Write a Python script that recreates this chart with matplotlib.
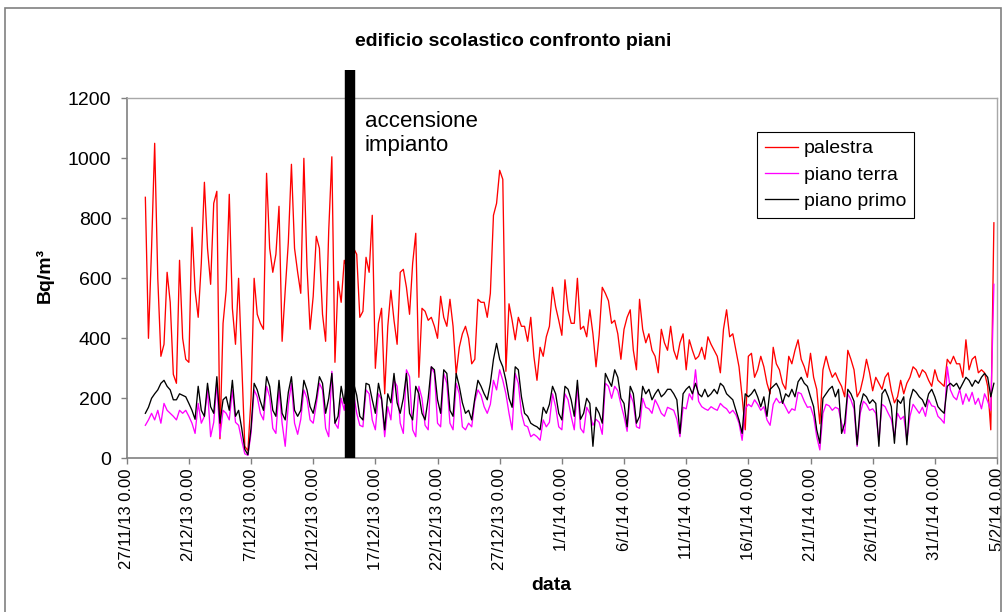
import matplotlib
matplotlib.use('Agg')
import matplotlib.pyplot as plt
import matplotlib.dates as mdates
import matplotlib.patches as patches
import matplotlib.transforms as mtransforms
from matplotlib.ticker import FuncFormatter
import pandas as pd

plt.rcParams['font.family'] = ['Liberation Sans', 'DejaVu Sans']

# Radon readings (Bq/m3), one value every 6 hours starting 28/11/13 12.00
start = '2013-11-28 12:00'

palestra = [
    870, 400,
    700, 1050, 600, 340,
    380, 620, 520, 280,
    250, 660, 400, 330,
    320, 770, 560, 470,
    650, 920, 700, 580,
    850, 890, 65, 450,
    560, 880, 500, 380,
    600, 320, 40, 25,
    200, 600, 480, 450,
    430, 950, 700, 620,
    680, 840, 390, 560,
    720, 980, 700, 620,
    550, 1000, 640, 430,
    540, 740, 700, 480,
    390, 760, 1005, 320,
    590, 520, 660, 630,
    650, 700, 680, 470,
    490, 670, 620, 810,
    300, 450, 500, 215,
    440, 560, 460, 380,
    620, 630, 570, 480,
    650, 750, 270, 500,
    490, 460, 470, 440,
    400, 540, 470, 440,
    530, 440, 280, 370,
    415, 440, 400, 315,
    330, 530, 520, 520,
    470, 550, 810, 850,
    960, 930, 290, 515,
    460, 395, 470, 440,
    440, 390, 470, 340,
    260, 370, 340, 405,
    440, 570, 505, 460,
    410, 595, 495, 450,
    450, 600, 430, 440,
    405, 495, 415, 305,
    410, 570, 550, 525,
    450, 460, 415, 330,
    430, 470, 495, 360,
    295, 530, 430, 385,
    415, 360, 340, 285,
    430, 385, 360, 440,
    360, 330, 385, 415,
    295, 395, 360, 330,
    340, 370, 330, 405,
    380, 360, 340, 285,
    430, 495, 405, 415,
    360, 305, 205, 95,
    340, 350, 270, 295,
    340, 305, 250, 215,
    370, 315, 295, 250,
    230, 340, 315, 360,
    395, 330, 305, 270,
    350, 270, 230, 115,
    295, 340, 300, 270,
    285, 260, 240, 205,
    360, 330, 295, 205,
    225, 270, 330, 285,
    225, 270, 250, 230,
    270, 285, 225, 185,
    205, 260, 215, 250,
    270, 305, 295, 270,
    295, 285, 260, 240,
    295, 260, 250, 240,
    330, 315, 340, 315,
    315, 270, 395, 295,
    330, 340, 285, 295,
    285, 240, 95, 785,
]

piano_terra = [
    110, 128,
    150, 128, 160, 117,
    183, 160, 150, 140,
    128, 160, 150, 160,
    140, 117, 83, 183,
    117, 140, 228, 72,
    120, 250, 72, 160,
    150, 128, 228, 120,
    110, 60, 15, 10,
    83, 228, 205, 150,
    128, 240, 205, 100,
    83, 230, 117, 40,
    180, 250, 117, 80,
    130, 228, 200, 128,
    117, 180, 250, 228,
    100, 72, 290, 117,
    100, 200, 160, 283,
    200, 215, 150, 110,
    105, 228, 215, 128,
    95, 215, 195, 72,
    172, 128, 260, 240,
    117, 83, 295, 272,
    95, 72, 240, 200,
    110, 95, 305, 283,
    117, 105, 283, 250,
    117, 95, 250, 215,
    105, 95, 117, 105,
    190, 228, 210, 172,
    150, 180, 260, 228,
    295, 260, 215, 150,
    95, 283, 250, 150,
    110, 105, 72, 80,
    72, 60, 128, 105,
    120, 215, 172, 105,
    95, 215, 195, 140,
    95, 240, 100, 85,
    170, 150, 110, 130,
    120, 80, 250, 240,
    200, 240, 225, 180,
    140, 90, 215, 185,
    105, 100, 200, 170,
    165, 150, 195, 175,
    150, 140, 170, 165,
    160, 130, 72, 170,
    165, 215, 195, 295,
    190, 172, 165, 160,
    172, 165, 160, 183,
    172, 165, 150, 160,
    145, 117, 60, 165,
    180, 172, 195, 180,
    160, 172, 128, 110,
    180, 200, 185, 190,
    170, 150, 165, 160,
    220, 215, 190, 170,
    172, 140, 72, 28,
    150, 180, 175, 160,
    170, 165, 117, 83,
    215, 195, 165, 40,
    150, 190, 180, 160,
    165, 150, 60, 180,
    172, 150, 130, 72,
    150, 130, 140, 60,
    140, 180, 165, 150,
    170, 140, 195, 175,
    172, 140, 130, 117,
    305, 228, 205, 195,
    230, 180, 215, 190,
    220, 180, 200, 165,
    215, 190, 160, 580,
]

piano_primo = [
    150, 170,
    200, 215, 228, 250,
    260, 240, 228, 195,
    195, 215, 210, 205,
    183, 160, 130, 240,
    160, 140, 250, 172,
    150, 272, 117, 195,
    205, 160, 260, 140,
    160, 100, 30, 12,
    100, 250, 228, 190,
    160, 272, 240, 160,
    140, 260, 150, 128,
    220, 272, 160, 140,
    160, 260, 228, 172,
    150, 200, 272, 250,
    150, 200, 283, 117,
    140, 240, 183, 295,
    240, 250, 210, 140,
    128, 250, 245, 195,
    150, 250, 200, 95,
    215, 185, 283, 185,
    150, 200, 283, 150,
    128, 240, 215, 150,
    128, 200, 305, 295,
    195, 150, 295, 283,
    160, 140, 283, 240,
    185, 150, 160, 128,
    200, 260, 240, 215,
    195, 250, 330, 383,
    330, 305, 260, 200,
    170, 305, 295, 205,
    150, 140, 117, 110,
    105, 95, 170, 150,
    180, 240, 215, 150,
    128, 240, 230, 195,
    140, 260, 130, 150,
    200, 183, 40, 170,
    150, 117, 283, 260,
    240, 295, 270, 200,
    183, 105, 240, 215,
    117, 140, 240, 215,
    230, 195, 215, 230,
    205, 215, 230, 230,
    215, 195, 83, 215,
    230, 240, 215, 250,
    215, 205, 230, 205,
    215, 230, 215, 250,
    240, 215, 205, 195,
    160, 127, 83, 215,
    205, 215, 230, 205,
    172, 205, 140, 230,
    240, 250, 230, 183,
    215, 205, 230, 205,
    255, 270, 250, 240,
    205, 172, 95, 50,
    200, 215, 230, 240,
    205, 230, 83, 117,
    230, 215, 190, 45,
    175, 215, 205, 183,
    195, 183, 40, 215,
    230, 205, 172, 50,
    195, 183, 205, 45,
    195, 230, 220, 205,
    195, 172, 215, 230,
    205, 172, 160, 150,
    240, 250, 240, 250,
    230, 250, 270, 260,
    240, 260, 250, 270,
    283, 270, 205, 250,
]

series = [palestra, piano_terra, piano_primo]
series_names = ['palestra', 'piano terra', 'piano primo']
series_colors = ['#FF0000', '#FF00FF', '#000000']

switch_on = '2013-12-15 00:00'   # accensione impianto
x_start, x_end = '2013-11-27', '2014-02-05'
y_ticks = [0, 200, 400, 600, 800, 1000, 1200]

W, H = 1007, 612
fig = plt.figure(figsize=(W / 100, H / 100), dpi=100)
ax = fig.add_axes([126.7 / W, 1 - 458.3 / H, 870.3 / W, 360 / H])

for vals, name, col in zip(series, series_names, series_colors):
    times = pd.date_range(start, periods=len(vals), freq='6h')
    ax.plot(times, vals, color=col, lw=0.95, label=name)

ax.set_xlim(pd.Timestamp(x_start), pd.Timestamp(x_end))
ax.set_ylim(0, 1200)
ax.set_yticks(y_ticks)
ax.set_xticks(pd.date_range(x_start, x_end, freq='5D'))


def fmt_date(x, pos):
    d = mdates.num2date(x)
    return f"{d.day}/{d.month}/{d.year % 100} {d.hour}.{d.minute:02d}"


ax.xaxis.set_major_formatter(FuncFormatter(fmt_date))
ax.tick_params(axis='x', rotation=90, labelsize=12, length=4, pad=3,
               color='#808080', width=1)
ax.tick_params(axis='y', labelsize=14, length=4, pad=7, color='#808080', width=1)
for lab in ax.get_xticklabels():
    lab.set_va('top')

for s in ['left', 'bottom']:
    ax.spines[s].set_color('#808080')
    ax.spines[s].set_linewidth(1.2)
for s in ['top', 'right']:
    ax.spines[s].set_color('#A8A8A8')
    ax.spines[s].set_linewidth(1.0)

# heating switched on: thick bar sticking out above the plot area
trans = mtransforms.blended_transform_factory(ax.transData, ax.transAxes)
xs = mdates.date2num(pd.Timestamp(switch_on))
ax.plot([xs, xs], [0, 1.079], transform=trans, color='black', lw=7.5,
        solid_capstyle='butt', clip_on=False, zorder=5)
ax.text((365 - 126.7) / 870.3, (458.3 - 111) / 360, 'accensione\nimpianto',
        transform=ax.transAxes, fontsize=16, va='top', ha='left', linespacing=1.2)

leg = ax.legend(loc='upper left', bbox_to_anchor=(757 / W, 1 - 132 / H),
                bbox_transform=fig.transFigure, borderaxespad=0, fontsize=14,
                fancybox=False, framealpha=1, edgecolor='black',
                handlelength=1.7, handletextpad=0.3, labelspacing=0.45,
                borderpad=0.4)
leg.get_frame().set_linewidth(0.8)

fig.text(513.5 / W, 1 - 41 / H, 'edificio scolastico confronto piani',
         fontsize=14, fontweight='bold', ha='center', va='center')
fig.text(551 / W, 1 - 585 / H, 'data', fontsize=14, fontweight='bold',
         ha='center', va='center')
fig.text(45 / W, 1 - 276 / H, 'Bq/m³', fontsize=14, fontweight='bold',
         ha='center', va='center', rotation=90)

# outer chart frame
fig.add_artist(patches.Rectangle((5 / W, -0.05), 996 / W, 1.05 - 8 / H,
                                 transform=fig.transFigure, fill=False,
                                 edgecolor='#808080', lw=1.2))

fig.savefig('out.png', dpi=100)
